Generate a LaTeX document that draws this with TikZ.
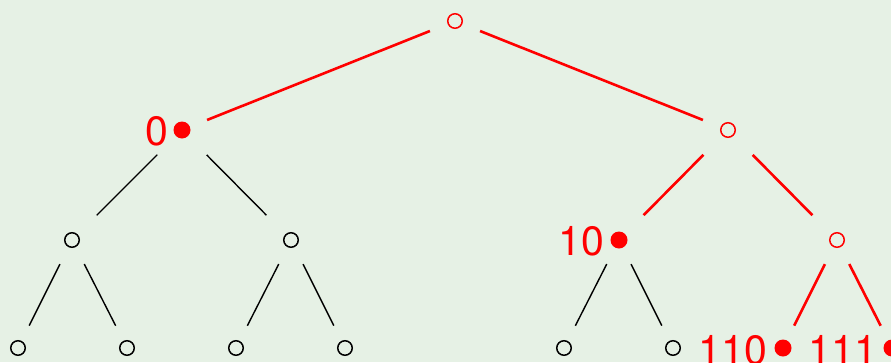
\documentclass[tikz,border=0pt]{standalone}
\usepackage{fontspec}
\setmainfont{TeX Gyre Heros}
\definecolor{bg}{RGB}{230,241,229}
\definecolor{rd}{RGB}{255,0,0}
\begin{document}
\begin{tikzpicture}[x=1pt,y=-1pt,
  oblk/.style={circle,draw=black,line width=1.5pt,minimum size=14.5pt,inner sep=0pt},
  ored/.style={circle,draw=rd,line width=1.5pt,minimum size=14.5pt,inner sep=0pt},
  bul/.style={circle,fill=rd,minimum size=17pt,inner sep=0pt},
  lab/.style={text=rd,font=\fontsize{41}{44}\selectfont,inner sep=0pt,anchor=base east},
  redge/.style={draw=rd,line width=2.6pt},
  bedge/.style={draw=black,line width=1.4pt},
  sa/.style={shorten <=27pt,shorten >=27pt},
  sb/.style={shorten <=35pt,shorten >=35pt},
  sc/.style={shorten <=27pt,shorten >=25pt}]
\fill[bg] (0,0) rectangle (891,362);
\useasboundingbox (0,0) rectangle (891,362);
% nodes
\node[ored] (r) at (455,21) {};
\node[bul] (a) at (182,130) {};
\node[ored] (b) at (728,130) {};
\node[oblk] (aa) at (72,240) {};
\node[oblk] (ab) at (291,240) {};
\node[bul] (ba) at (619,240) {};
\node[ored] (bb) at (837,240) {};
\node[oblk] (aaa) at (18,348) {};
\node[oblk] (aab) at (127,348) {};
\node[oblk] (aba) at (236,348) {};
\node[oblk] (abb) at (345,348) {};
\node[oblk] (baa) at (564,348) {};
\node[oblk] (bab) at (673,348) {};
\node[bul] (bba) at (783,348) {};
\node[bul] (bbb) at (892,348) {};
% labels
\node[lab] (la) at (168,145.5) {0};
\node[lab] (lba) at (604,255) {10};
\node[lab] (lbba) at (767,364) {110};
\node[lab] (lbbb) at (877,364) {111};
% edges
\draw[redge,sa] (r.center) -- (a.center);
\draw[redge,sa] (r.center) -- (b.center);
\draw[bedge,sb] (a.center) -- (aa.center);
\draw[bedge,sb] (a.center) -- (ab.center);
\draw[redge,sb] (b.center) -- (ba.center);
\draw[redge,sb] (b.center) -- (bb.center);
\draw[bedge,sc] (aa.center) -- (aaa.center);
\draw[bedge,sc] (aa.center) -- (aab.center);
\draw[bedge,sc] (ab.center) -- (aba.center);
\draw[bedge,sc] (ab.center) -- (abb.center);
\draw[bedge,sc] (ba.center) -- (baa.center);
\draw[bedge,sc] (ba.center) -- (bab.center);
\draw[redge,sc] (bb.center) -- (bba.center);
\draw[redge,sc] (bb.center) -- (bbb.center);
\end{tikzpicture}
\end{document}
